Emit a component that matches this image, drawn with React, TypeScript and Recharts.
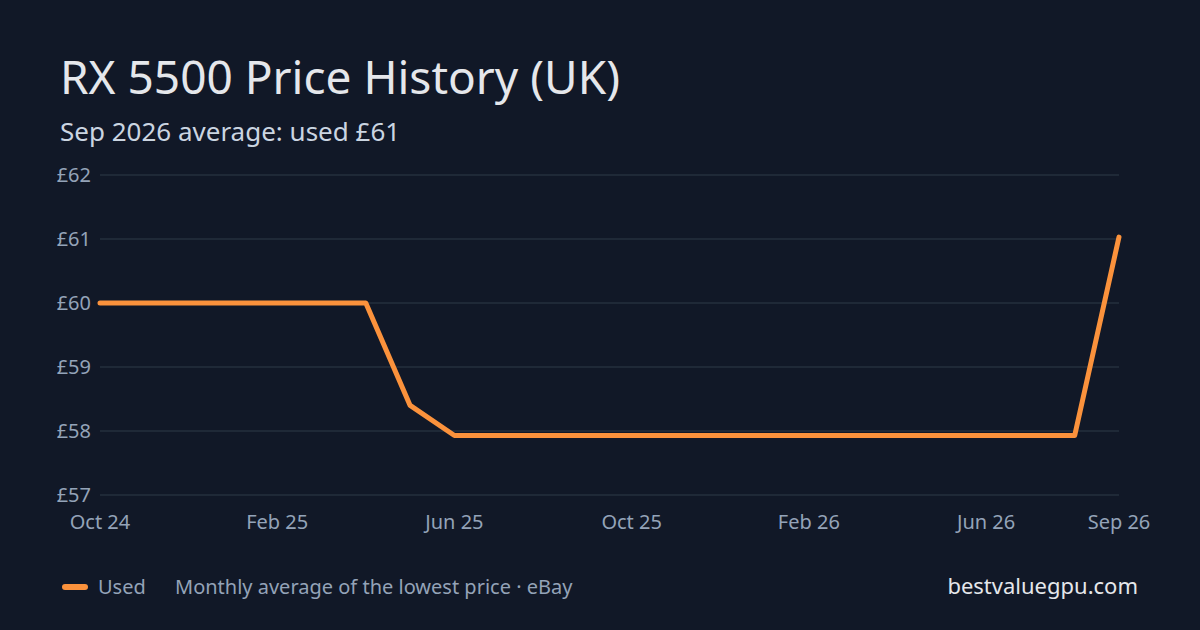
import { LineChart, Line, XAxis, YAxis, CartesianGrid } from 'recharts';

const months = [
  'Oct 24', 'Nov 24', 'Dec 24', 'Jan 25', 'Feb 25', 'Mar 25', 'Apr 25', 'May 25',
  'Jun 25', 'Jul 25', 'Aug 25', 'Sep 25', 'Oct 25', 'Nov 25', 'Dec 25', 'Jan 26',
  'Feb 26', 'Mar 26', 'Apr 26', 'May 26', 'Jun 26', 'Jul 26', 'Aug 26', 'Sep 26',
];

const usedPrices = [
  60, 60, 60, 60, 60, 60, 60, 58.4,
  57.93, 57.93, 57.93, 57.93, 57.93, 57.93, 57.93, 57.93,
  57.93, 57.93, 57.93, 57.93, 57.93, 57.93, 57.93, 61.03,
];

const xTicks = ['Oct 24', 'Feb 25', 'Jun 25', 'Oct 25', 'Feb 26', 'Jun 26', 'Sep 26'];
const yTicks = [57, 58, 59, 60, 61, 62];

const data = months.map((month, i) => ({ month, used: usedPrices[i] }));

const FONT = '"Noto Sans", "Open Sans", sans-serif';
const ORANGE = '#fb923c';

export default function App() {
  return (
    <div
      style={{
        position: 'fixed',
        left: 0,
        top: 0,
        width: 1200,
        height: 630,
        background: '#111827',
        fontFamily: FONT,
        overflow: 'hidden',
      }}
    >
      <div style={{ position: 'absolute', left: 60, top: 46, fontSize: 46, color: '#e5e7eb', lineHeight: '60px' }}>
        RX 5500 Price History (UK)
      </div>
      <div style={{ position: 'absolute', left: 60, top: 114, fontSize: 26, color: '#cbd5e1', lineHeight: '34px' }}>
        Sep 2026 average: used £61
      </div>

      <div style={{ position: 'absolute', left: 0, top: 0 }}>
        <LineChart
          width={1200}
          height={630}
          data={data}
          margin={{ top: 175, right: 81, bottom: 105, left: 40 }}
        >
          <CartesianGrid vertical={false} stroke="#1f2937" strokeWidth={2} />
          <XAxis
            dataKey="month"
            ticks={xTicks}
            interval={0}
            axisLine={false}
            tickLine={false}
            tickMargin={14}
            tick={{ fill: '#94a3b8', fontSize: 20, fontFamily: FONT }}
          />
          <YAxis
            domain={[57, 62]}
            ticks={yTicks}
            width={60}
            axisLine={false}
            tickLine={false}
            tickSize={0}
            tickMargin={9}
            tickFormatter={(v) => `£${v}`}
            tick={{ fill: '#94a3b8', fontSize: 20, fontFamily: FONT }}
          />
          <Line
            type="linear"
            dataKey="used"
            stroke={ORANGE}
            strokeWidth={5}
            dot={false}
            strokeLinecap="round"
            strokeLinejoin="round"
            isAnimationActive={false}
          />
        </LineChart>
      </div>

      <div style={{ position: 'absolute', left: 62, top: 584, width: 26, height: 6, borderRadius: 3, background: ORANGE }} />
      <div style={{ position: 'absolute', left: 98, top: 573, fontSize: 20, color: '#94a3b8', lineHeight: '27px' }}>
        Used
      </div>
      <div style={{ position: 'absolute', left: 175, top: 573, fontSize: 20, color: '#94a3b8', lineHeight: '27px' }}>
        Monthly average of the lowest price · eBay
      </div>
      <div style={{ position: 'absolute', right: 62, top: 571, fontSize: 22, color: '#e5e7eb', lineHeight: '29px' }}>
        bestvaluegpu.com
      </div>
    </div>
  );
}
